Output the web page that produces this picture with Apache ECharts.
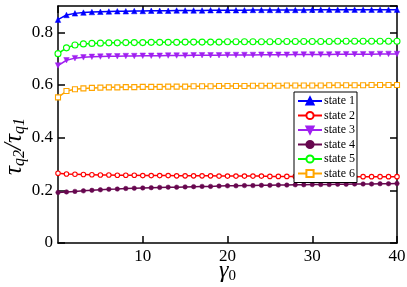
<!DOCTYPE html>
<html><head><meta charset="utf-8">
<script src="https://cdn.jsdelivr.net/npm/echarts@6/dist/echarts.min.js"></script>
<style>html,body{margin:0;padding:0;background:#fff}#c{width:407px;height:287px}</style>
</head><body><div id="c"></div>
<script>
var gamma0 = [0,1,2,3,4,5,6,7,8,9,10,11,12,13,14,15,16,17,18,19,20,21,22,23,24,25,26,27,28,29,30,31,32,33,34,35,36,37,38,39,40];
var state1 = [0.848,0.866,0.872,0.875,0.877,0.878,0.879,0.880,0.880,0.881,0.881,0.882,0.882,0.882,0.883,0.883,0.883,0.883,0.884,0.884,0.884,0.884,0.884,0.885,0.885,0.885,0.885,0.885,0.885,0.885,0.886,0.886,0.886,0.886,0.886,0.886,0.886,0.886,0.886,0.886,0.886];
var state2 = [0.265,0.262,0.261,0.260,0.259,0.258,0.258,0.257,0.257,0.257,0.256,0.256,0.256,0.256,0.255,0.255,0.255,0.255,0.255,0.254,0.254,0.254,0.254,0.254,0.254,0.253,0.253,0.253,0.253,0.253,0.253,0.253,0.252,0.252,0.252,0.252,0.252,0.252,0.252,0.252,0.252];
var state3 = [0.674,0.694,0.702,0.705,0.707,0.708,0.709,0.709,0.710,0.710,0.711,0.711,0.711,0.712,0.712,0.712,0.713,0.713,0.713,0.713,0.714,0.714,0.714,0.714,0.715,0.715,0.715,0.715,0.716,0.716,0.716,0.716,0.716,0.717,0.717,0.717,0.717,0.717,0.718,0.718,0.718];
var state4 = [0.192,0.194,0.196,0.198,0.200,0.202,0.204,0.205,0.207,0.208,0.209,0.210,0.211,0.212,0.212,0.213,0.214,0.215,0.215,0.216,0.217,0.217,0.218,0.218,0.219,0.219,0.220,0.220,0.221,0.221,0.222,0.222,0.222,0.223,0.223,0.224,0.224,0.224,0.225,0.225,0.226];
var state5 = [0.719,0.741,0.752,0.756,0.758,0.759,0.760,0.760,0.761,0.761,0.761,0.762,0.762,0.762,0.762,0.763,0.763,0.763,0.763,0.763,0.764,0.764,0.764,0.764,0.764,0.764,0.765,0.765,0.765,0.765,0.765,0.765,0.765,0.766,0.766,0.766,0.766,0.766,0.766,0.766,0.766];
var state6 = [0.553,0.577,0.584,0.587,0.589,0.590,0.591,0.591,0.592,0.592,0.593,0.593,0.593,0.594,0.594,0.594,0.595,0.595,0.595,0.596,0.596,0.596,0.596,0.597,0.597,0.597,0.597,0.598,0.598,0.598,0.598,0.598,0.599,0.599,0.599,0.599,0.599,0.600,0.600,0.600,0.600];
var names = ['state 1','state 2','state 3','state 4','state 5','state 6'];
var colors = ['#0000ff','#ff0000','#a020f0','#67074f','#00ff00','#ffa500'];
var symbols = ['triangle','circle','path://M0,0 L10,0 L5,10 Z','circle','circle','rect'];
var hollow = [false,true,false,false,true,true];
var sizes = [5.5,4.5,5.5,4.5,6,5];
var allData = [state1,state2,state3,state4,state5,state6];

var serif = '"Liberation Serif","DejaVu Serif",serif';
var series = allData.map(function(d,i){
  return {
    name: names[i], type:'line', data: d.map(function(v,k){return [gamma0[k], v];}),
    symbol: symbols[i], symbolSize: sizes[i], showAllSymbol:true,
    lineStyle:{color:colors[i], width:1.5},
    itemStyle: hollow[i] ? {color:'#fff', borderColor:colors[i], borderWidth:1.1} : {color:colors[i], borderColor:colors[i], borderWidth:0.5},
    emphasis:{disabled:true}, animation:false, clip:false
  };
});
var axLine = {onZero:false, lineStyle:{color:'#000', width:1.5}};
var axTick = {inside:true, length:7, lineStyle:{width:1.5, color:'#000'}};
var chart = echarts.init(document.getElementById('c'));
chart.setOption({
  animation:false,
  grid:{left:58, right:10, top:6, bottom:44, outerBoundsMode:'none', containLabel:false},
  legend:{
    orient:'vertical', left:294, top:92, padding:[3,2,3,3], itemGap:2.5, itemWidth:24, itemHeight:9,
    borderColor:'#000', borderWidth:1, backgroundColor:'#fff',
    textStyle:{fontFamily:serif, fontSize:12, color:'#000', padding:[0,0,0,-3]},
    data:names
  },
  xAxis:[{
    type:'value', min:0, max:40, interval:10, position:'bottom',
    axisLine:axLine, axisTick:axTick,
    axisLabel:{fontFamily:serif, fontSize:17, color:'#000', margin:5, showMinLabel:false},
    splitLine:{show:false},
    name:'{g|γ}{s|0}', nameLocation:'middle', nameGap:14, nameMoveOverlap:false,
    nameTextStyle:{rich:{g:{fontFamily:serif, fontStyle:'italic', fontSize:24, color:'#000'}, s:{fontFamily:serif, fontSize:15, color:'#000', padding:[12,0,0,0]}}}
  },{
    type:'value', min:0, max:40, interval:10, position:'top',
    axisLine:axLine, axisTick:axTick,
    axisLabel:{show:false}, splitLine:{show:false}
  }],
  yAxis:[{
    type:'value', min:0, max:0.9, interval:0.2, position:'left',
    axisLine:axLine, axisTick:axTick,
    axisLabel:{fontFamily:serif, fontSize:17, color:'#000', margin:5, showMaxLabel:false},
    splitLine:{show:false},
    name:'{g|τ}{s|q2}{g|/τ}{s|q1}', nameLocation:'middle', nameGap:30, nameRotate:90, nameMoveOverlap:false,
    nameTextStyle:{padding:[0,44,0,0], rich:{g:{fontFamily:serif, fontStyle:'italic', fontSize:25, color:'#000'}, s:{fontFamily:serif, fontStyle:'italic', fontSize:16, color:'#000', padding:[11,0,0,0]}}}
  },{
    type:'value', min:0, max:0.9, interval:0.2, position:'right',
    axisLine:axLine, axisTick:axTick,
    axisLabel:{show:false}, splitLine:{show:false}
  }],
  series: series
});
</script></body></html>
